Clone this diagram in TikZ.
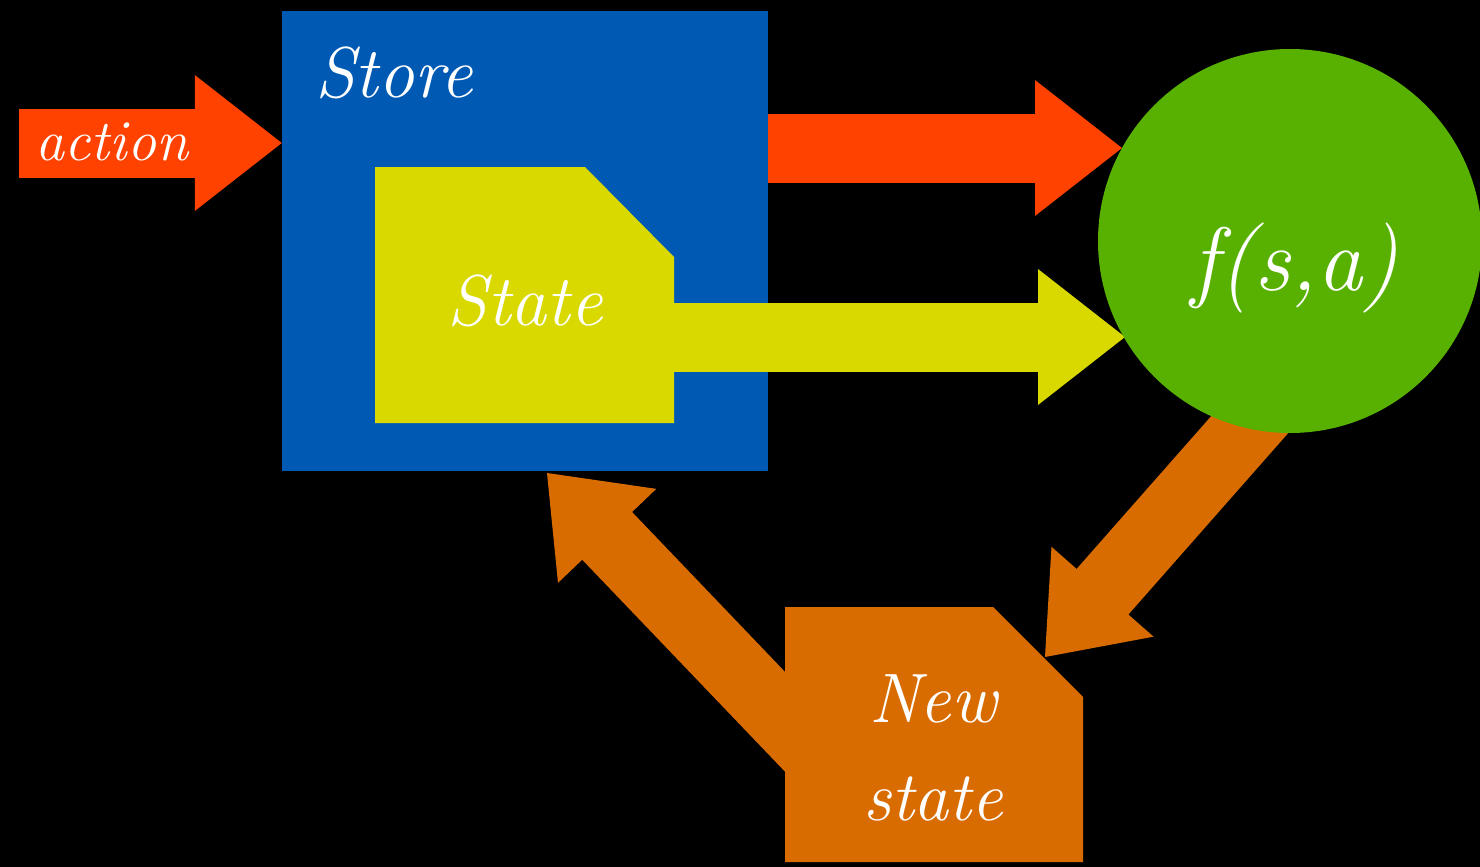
\documentclass[tikz,border=0pt]{standalone}
\usetikzlibrary{calc}
\definecolor{cblue}{HTML}{005AB4}
\definecolor{cyel}{HTML}{D9D900}
\definecolor{cred}{HTML}{FF4200}
\definecolor{cgreen}{HTML}{58B100}
\definecolor{corange}{HTML}{D96C00}
\newcommand\fatarrow[3]{%
  \coordinate (fa-h) at ($(#3)!87pt!(#2)$);
  \coordinate (fa-s) at ($(#3)!85pt!(#2)$);
  \draw[#1, line width=69pt] (#2) -- (fa-s);
  \fill[#1] (#3) -- ($(fa-h)!68pt!90:(#3)$) -- ($(fa-h)!68pt!-90:(#3)$) -- cycle;
}
\tikzset{
  lbl/.style={text=white, font=\itshape\fontsize{72}{80}\selectfont, inner sep=0pt, anchor=base},
}
\begin{document}
\begin{tikzpicture}[x=1pt, y=-1pt]
\useasboundingbox (0,0) rectangle (1480,867);
\fill[black] (0,0) rectangle (1480,867);

% store
\node[fill=cblue, minimum width=486pt, minimum height=460pt, inner sep=0pt] (store) at (525,241) {};
% action arrow
\coordinate (a0) at (19,143);
\fatarrow{cred}{a0}{store.west |- a0}
\node[lbl, font=\itshape\fontsize{58}{64}\selectfont] (action) at (112,160) {action};

% function circle (position only, drawn later)
\coordinate (fc) at (1290,241);
% store -> f red arrow
\coordinate (r0) at (768,148);
\coordinate (r1) at (1122,148);
\fatarrow{cred}{r0}{r1}

% state polygon
\fill[cyel] (375,167) coordinate (st-nw) -- (585,167) -- (674,257) -- (674,423) -- (375,423) -- cycle;
\coordinate (y0) at (670,337);
\coordinate (y1) at (1125,337);
\fatarrow{cyel}{y0}{y1}

% f -> new state arrow
\coordinate (d0) at (1311,355);
\coordinate (d1) at (1045,657);
\fatarrow{corange}{d0}{d1}

% circle
\node[circle, fill=cgreen, minimum size=384pt, inner sep=0pt] (fsa) at (fc) {};

% new state -> store arrow
\coordinate (u0) at (857,797);
\coordinate (u1) at (547,473);
\fatarrow{corange}{u0}{u1}

% new state polygon
\fill[corange] (785,607) -- (993,607) -- (1083,697) -- (1083,862) -- (785,862) -- cycle;

% labels
\node[lbl] (storelbl) at (394,97) {Store};
\node[lbl] (statelbl) at (525,325) {State};
\node[lbl, font=\itshape\fontsize{90}{100}\selectfont] (fsalbl) at (1295,290) {f(s,a)};
\node[lbl, font=\itshape\fontsize{70}{80}\selectfont] (newlbl) at (933,722) {New};
\node[lbl, font=\itshape\fontsize{70}{80}\selectfont] (nstatelbl) at (933,820) {state};
\end{tikzpicture}
\end{document}
